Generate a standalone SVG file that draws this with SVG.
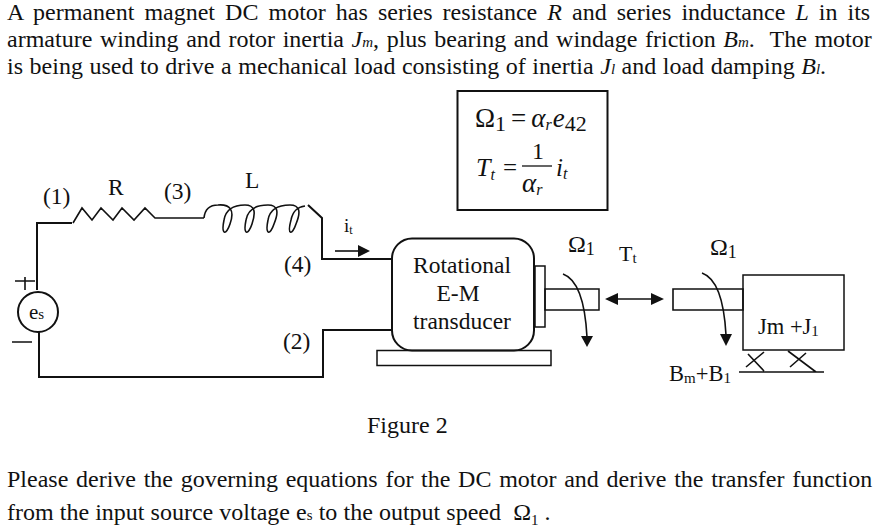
<svg xmlns="http://www.w3.org/2000/svg" width="886" height="532" viewBox="0 0 886 532">
<style>
text{font-family:"Liberation Serif","Times New Roman",serif;fill:#111}
.p{font-size:24px}
.d{font-size:23.500px}
.s{font-size:15px}
.i{font-style:italic}
.w{fill:none;stroke:#111;stroke-width:2}
.t{fill:none;stroke:#111;stroke-width:1.6}
.h{fill:#111;stroke:none}
</style>
<rect width="886" height="532" fill="#fff"/>
<g id="problem-text">
<text class="p" x="7" y="20" word-spacing="4.05">A permanent magnet DC motor has series resistance <tspan class="i">R</tspan> and series inductance <tspan class="i">L</tspan> in its</text>
<text class="p" x="7" y="47" word-spacing="1.6" xml:space="preserve">armature winding and rotor inertia <tspan class="i">J<tspan font-size="15">m</tspan></tspan>, plus bearing and windage friction <tspan class="i">B<tspan font-size="15">m</tspan></tspan>.  The motor</text>
<text class="p" x="7" y="74" word-spacing="0.55">is being used to drive a mechanical load consisting of inertia <tspan class="i">J<tspan font-size="15">l</tspan></tspan> and load damping <tspan class="i">B<tspan font-size="15">l</tspan></tspan>.</text>
<text class="p" x="367" y="433">Figure 2</text>
<text class="p" x="7" y="487" word-spacing="1.7">Please derive the governing equations for the DC motor and derive the transfer function</text>
<text class="p" x="7" y="520" xml:space="preserve" word-spacing="0.1">from the input source voltage e<tspan font-size="15">s</tspan> to the output speed  Ω<tspan font-size="15" dy="5">1</tspan><tspan dy="-5"> .</tspan></text>
</g>
<g id="connectors">
<path class="w" d="M37 290V223H72"/>
<path class="t" d="M73 223L82 208L92 220L101 208L113 220L122 208L134 220L145 208L155 218H204"/>
<path class="t" d="M204 218C205 208 211 205 218 205C230 204 235 210 230 224C226 236 221 235 224 220C226 208 236 205 245 205C255 205 256 212 252 224C248 236 243 235 246 220C248 208 258 205 268 205C278 205 279 212 274 224C270 236 265 235 268 220C270 208 280 205 290 205C300 205 301 212 296 224C292 236 287 235 291 220C293 210 298 207 305 206"/>
<path class="w" d="M308 205L322 218V259H392"/>
<path class="w" d="M39 330V377H323V330H392"/>
<path class="t" d="M15 281H35M25 277V290M12 342H32"/>
<path class="t" d="M335 251H358"/>
<path class="h" d="M358 245L370 251L358 257Z"/>
<path class="t" d="M563 274C577 279 585 300 587 337"/>
<path class="h" d="M581 336H593L587 347Z"/>
<path class="t" d="M702 273C716 278 724 298 726 335"/>
<path class="h" d="M720 334H732L726 346Z"/>
<path class="t" d="M612 299H657"/>
<path class="h" d="M605 299L618 293V305ZM664 299L651 293V305Z"/>
<path class="t" d="M739 372H824M748 354L764 371M764 352L746 367M788 351L816 372M806 353L790 367"/>
</g>
<g id="equations">
<rect x="457.500" y="91" width="150" height="119" fill="none" stroke="#111" stroke-width="2"/>
<text x="475" y="127" font-size="27">Ω<tspan font-size="22" dy="4">1</tspan><tspan dy="-4" dx="5">=</tspan><tspan class="i" dx="5">α</tspan><tspan class="i" font-size="16" dy="3">r</tspan><tspan class="i" dy="-3" dx="1">e</tspan><tspan font-size="22" dy="4">42</tspan></text>
<text class="i" x="476" y="176" font-size="26">T<tspan font-size="16" dy="4">t</tspan></text>
<text x="503" y="176" font-size="25">=</text>
<text x="532" y="159" font-size="24">1</text>
<path d="M522 166H552" stroke="#111" stroke-width="1.300"/>
<text class="i" x="522" y="192" font-size="27">α<tspan font-size="16" dy="3">r</tspan></text>
<text class="i" x="556" y="176" font-size="25">i<tspan font-size="16" dy="3">t</tspan></text>
</g>
<g id="source-es">
<circle cx="38" cy="312" r="20" fill="#fff" stroke="#111" stroke-width="2"/>
<text x="29" y="319" font-size="21">e<tspan class="s">s</tspan></text>
</g>
<g id="circuit-labels">
<text class="d" x="43" y="204">(1)</text>
<text class="d" x="108" y="195">R</text>
<text class="d" x="164" y="199">(3)</text>
<text class="d" x="245" y="188">L</text>
<text x="344" y="232" font-size="19">i<tspan font-size="12" dy="2">t</tspan></text>
<text class="d" x="284" y="272">(4)</text>
<text class="d" x="283" y="349">(2)</text>
</g>
<g id="transducer">
<rect x="392" y="238.500" width="142" height="112" rx="20" fill="#fff" stroke="#111" stroke-width="2"/>
<text class="d" x="462" y="273" text-anchor="middle">Rotational</text>
<text class="d" x="458" y="301" text-anchor="middle">E-M</text>
<text class="d" x="462" y="329" text-anchor="middle">transducer</text>
<rect x="535" y="266" width="10" height="61" fill="none" stroke="#111" stroke-width="1.500"/>
<rect x="545" y="289" width="54" height="21" fill="none" stroke="#111" stroke-width="1.500"/>
<rect x="377" y="350.500" width="174" height="15" fill="none" stroke="#111" stroke-width="1.500"/>
<text x="568" y="252" font-size="24">Ω<tspan font-size="18" dy="3">1</tspan></text>
</g>
<g id="torque-label">
<text x="619" y="261" font-size="22">T<tspan class="s" dy="2">t</tspan></text>
</g>
<g id="load">
<path class="t" d="M673 289H743V310H673Z"/>
<rect x="743" y="275" width="101" height="75" fill="none" stroke="#111" stroke-width="1.500"/>
<text x="710" y="255" font-size="24">Ω<tspan font-size="18" dy="3">1</tspan></text>
<text x="758" y="334" font-size="22.500">Jm +J<tspan class="s" dy="2">1</tspan></text>
<text x="669" y="381" font-size="22.500">B<tspan class="s" dy="2">m</tspan><tspan dy="-2">+B</tspan><tspan class="s" dy="2">1</tspan></text>
</g>
</svg>
